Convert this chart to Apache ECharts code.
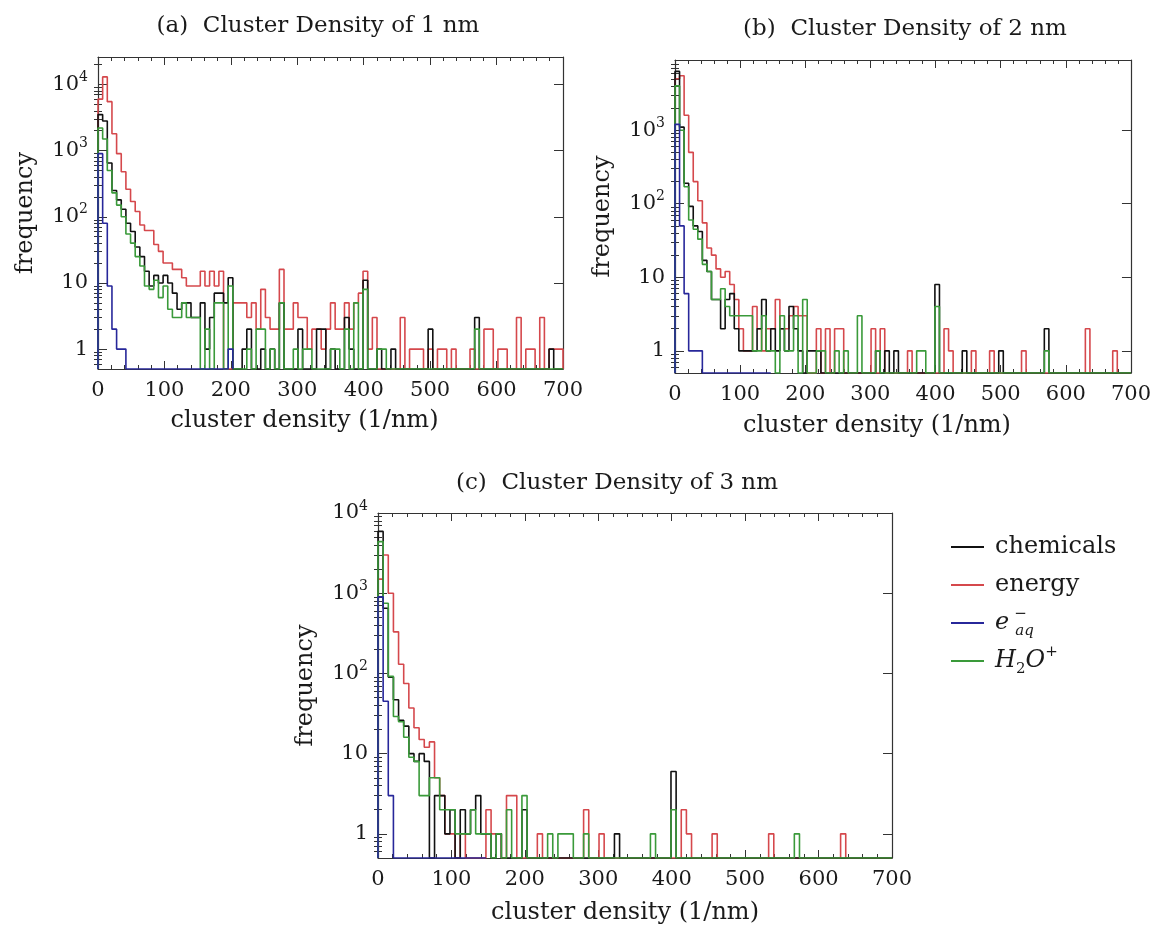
<!DOCTYPE html>
<html>
<head>
<meta charset="utf-8">
<script src="https://cdn.jsdelivr.net/npm/echarts@6/dist/echarts.min.js"></script>
<style>
html,body{margin:0;padding:0;background:#ffffff;}
#chart{width:1154px;height:932px;}
</style>
</head>
<body>
<div id="chart"></div>
<script>
// ---------------- data ----------------
const BIN_WIDTH = 7;            // histogram bin width (1/nm)
const X_TICKS = [0, 100, 200, 300, 400, 500, 600, 700];
const SERIES_NAMES = ['chemicals', 'energy', 'eaq', 'h2o'];
const PANEL_TITLES = ['(a)  Cluster Density of 1 nm', '(b)  Cluster Density of 2 nm', '(c)  Cluster Density of 3 nm'];
const Y_LABELS_A = [1, 10, 100, 1000, 10000];
const Y_LABELS_B = [1, 10, 100, 1000];
const Y_LABELS_C = [1, 10, 100, 1000, 10000];

// panel (a): counts per bin
const energyA = [6000,13000,5500,1800,900,480,260,170,120,75,
  62,62,38,30,20,20,16,16,12,9,
  9,9,15,9,15,9,15,0,0,5,
  5,5,3,5,2,8,3,2,2,16,
  2,2,5,3,3,1,2,2,1,2,
  5,2,2,5,2,5,7,15,1,3,
  0,0,0,0,0,3,0,1,1,1,
  0,1,0,1,1,0,1,0,0,0,
  1,0,0,2,2,0,1,1,0,0,
  3,0,1,1,0,3,0,1,1,1];
const chemA = [3500,2800,650,250,180,130,80,60,35,25,
  15,9,13,10,13,10,7,4,5,5,
  3,3,5,1,3,7,7,5,12,0,
  0,1,2,0,0,1,0,1,0,5,
  0,0,0,2,0,0,0,2,2,0,
  1,0,0,3,1,0,0,11,0,0,
  1,0,0,1,0,0,0,0,0,0,
  0,2,0,0,0,0,0,0,0,0,
  0,3,0,0,0,0,0,0,0,0,
  0,0,0,0,0,0,0,1,0,0];
const h2oA = [2200,1500,500,230,150,100,55,40,25,18,
  9,8,11,6,9,4,3,3,5,3,
  3,3,0,2,0,5,5,0,9,0,
  0,0,1,0,2,2,0,1,0,5,
  0,0,1,0,1,1,0,0,0,0,
  1,1,0,2,0,5,0,8,0,0,
  1,1,0,0,0,0,0,0,0,0,
  0,0,0,0,0,0,0,0,0,0,
  0,2,0,0,0,0,0,0,0,0,
  0,0,0,0,0,0,0,0,0,0];
const eaqA = [900,80,9,2,1,1,0,0,0,0,
  0,0,0,0,0,0,0,0,0,0,
  0,0,0,0,0,0,0,0,1];

// panel (b)
const energyB = [5000,5500,1600,500,200,110,55,25,20,13,
  10,12,8,5,2,1,1,4,2,1,
  2,2,5,2,2,3,4,3,3,0,
  0,2,0,2,0,2,2,0,0,0,
  0,0,0,2,0,2,0,0,0,0,
  0,1,0,0,0,0,0,0,0,2,
  1,0,0,0,0,1,0,0,0,1,
  0,0,0,0,0,0,1,0,0,0,
  0,0,0,0,0,0,0,0,0,0,
  2,0,0,0,0,0,1,0,0,0];
const chemB = [6300,1100,190,92,50,42,17,12,5,5,
  2,5,6,2,1,1,1,1,2,5,
  1,2,1,2,1,4,2,1,0,1,
  1,1,0,0,0,0,0,0,0,0,
  0,0,0,0,1,0,1,0,1,0,
  0,0,0,0,0,0,0,8,0,0,
  0,0,0,1,0,0,0,0,0,0,
  0,1,0,0,0,0,0,0,0,0,
  0,2,0,0,0,0,0,0,0,0,
  0,0,0,0,0,0,0,0,0,0];
const h2oB = [4000,1000,170,60,45,33,15,12,5,5,
  7,4,3,3,3,3,3,1,1,3,
  1,1,0,3,1,1,3,0,5,0,
  0,1,1,0,0,1,0,1,0,0,
  3,0,0,0,1,0,0,0,0,0,
  0,0,0,1,1,0,0,4,0,0,
  0,0,0,0,0,0,0,0,0,0,
  0,0,0,0,0,0,0,0,0,0,
  0,1,0,0,0,0,0,0,0,0,
  0,0,0,0,0,0,0,0,0,0];
const eaqB = [1200,50,6,1,1,1,0,0,0,0,
  0,0,0,0,0,0,0,0,0,0,0];

// panel (c)
const energyC = [1500,3000,1000,330,130,75,37,21,15,12,
  14,5,3,1,1,0,1,0,0,0,
  0,2,1,1,0,3,3,0,0,0,
  0,1,0,0,0,0,0,0,0,0,
  2,0,0,1,0,0,0,0,0,0,
  0,0,0,0,0,0,0,0,0,2,
  1,0,0,0,0,1,0,0,0,0,
  0,0,0,0,0,0,1,0,0,0,
  0,0,0,0,0,0,0,0,0,0,
  1,0,0,0,0,0,0,0,0,0];
const chemC = [5900,650,90,47,26,22,10,8,10,8,
  0,3,3,1,2,0,2,1,2,3,
  1,1,0,1,0,0,0,0,2,0,
  0,0,0,0,0,0,0,0,0,0,
  0,0,0,0,0,0,1,0,0,0,
  0,0,0,0,0,0,0,6,0,0,
  0,0,0,0,0,0,0,0,0,0,
  0,0,0,0,0,0,0,0,0,0,
  0,0,0,0,0,0,0,0,0,0,
  0,0,0,0,0,0,0,0,0,0];
const h2oC = [4400,750,92,29,25,16,9,8,3,3,
  5,5,2,2,2,1,1,1,2,1,
  1,1,0,1,0,2,0,0,3,0,
  0,0,0,1,0,1,1,1,0,0,
  1,0,0,0,0,0,0,0,0,0,
  0,0,0,1,0,0,0,2,0,0,
  0,0,0,0,0,0,0,0,0,0,
  0,0,0,0,0,0,0,0,0,0,
  0,1,0,0,0,0,0,0,0,0,
  0,0,0,0,0,0,0,0,0,0];
const eaqC = [900,45,3,0,0,0,0,0,0,0,
  0,0,0,0,0,0,0,0,0,0,0];

// ---------------- styling / layout ----------------
const FONT = 'DejaVu Serif';
const TEXT_COLOR = '#1a1a1a';
const FRAME_COLOR = '#333333';
const COLORS = { chemicals: '#111111', energy: '#d5484c', eaq: '#27279a', h2o: '#3a9a3a' };
const DRAW_ORDER = ['energy', 'chemicals', 'h2o', 'eaq'];

const panels = [
  { title: PANEL_TITLES[0], titleX: 313, titleY: 10, grid: { left: 98, top: 57, width: 465, height: 312 },
    yMin: 0.5, yMax: 26000, yLabels: Y_LABELS_A, xNameGap: 40, xNameShift: 26, yNameGap: 60,
    data: { chemicals: chemA, energy: energyA, eaq: eaqA, h2o: h2oA } },
  { title: PANEL_TITLES[1], titleX: 900, titleY: 13, grid: { left: 675, top: 60, width: 463, height: 313 },
    yMin: 0.5, yMax: 9000, yLabels: Y_LABELS_B, xNameGap: 41, xNameShift: 26, yNameGap: 60,
    data: { chemicals: chemB, energy: energyB, eaq: eaqB, h2o: h2oB } },
  { title: PANEL_TITLES[2], titleX: 612, titleY: 467, grid: { left: 378, top: 513, width: 514, height: 345 },
    yMin: 0.5, yMax: 10000, yLabels: Y_LABELS_C, xNameGap: 43, xNameShift: 10, yNameGap: 60,
    data: { chemicals: chemC, energy: energyC, eaq: eaqC, h2o: h2oC } }
];

function minorLogTicks(min, max) {
  const out = [];
  for (let e = -1; e <= 5; e++) {
    for (let k = 2; k <= 9; k++) {
      const v = k * Math.pow(10, e);
      if (v > min && v < max) out.push(Number(v.toPrecision(6)));
    }
  }
  return out;
}

function stepPoints(counts, floor) {
  const pts = [[0, floor]];
  counts.forEach(function (c, i) { pts.push([i * BIN_WIDTH, c > 0 ? c : floor]); });
  pts.push([counts.length * BIN_WIDTH, floor]);
  return pts;
}

function yLabelFormatter(v) {
  const e = Math.round(Math.log10(v));
  if (e === 0) return '1';
  if (e === 1) return '10';
  return '10{sup|' + e + '}';
}

const option = {
  animation: false,
  backgroundColor: '#ffffff',
  textStyle: { fontFamily: FONT },
  title: [],
  grid: [],
  xAxis: [],
  yAxis: [],
  series: [],
  legend: {
    orient: 'vertical',
    left: 946,
    top: 526,
    icon: 'rect',
    itemWidth: 33,
    itemHeight: 2,
    itemGap: 6,
    selectedMode: false,
    data: SERIES_NAMES,
    formatter: function (name) {
      if (name === 'chemicals') return 'chemicals';
      if (name === 'energy') return 'energy';
      if (name === 'eaq') return '{it|e}{ms|\u2212}{sub|aq}';
      return '{it|H}{sub2|2}{it|O}{sup|+}';
    },
    textStyle: {
      fontFamily: FONT, fontSize: 24, color: TEXT_COLOR, lineHeight: 32, padding: [0, 0, 0, 6],
      rich: {
        it: { fontFamily: FONT, fontStyle: 'italic', fontSize: 24, color: TEXT_COLOR, lineHeight: 32 },
        sub: { fontFamily: FONT, fontStyle: 'italic', fontSize: 15, color: TEXT_COLOR, lineHeight: 15, verticalAlign: 'bottom' },
        sub2: { fontFamily: FONT, fontSize: 15, color: TEXT_COLOR, lineHeight: 15, verticalAlign: 'bottom' },
        sup: { fontFamily: FONT, fontSize: 15, color: TEXT_COLOR, lineHeight: 15, verticalAlign: 'top' },
        ms: { fontFamily: FONT, fontSize: 15, color: TEXT_COLOR, lineHeight: 15, verticalAlign: 'top', width: 1, padding: [0, 0, 0, 5] }
      }
    }
  }
};

panels.forEach(function (p, pi) {
  option.title.push({
    text: p.title, left: p.titleX, top: p.titleY, textAlign: 'center',
    textStyle: { fontFamily: FONT, fontSize: 23, fontWeight: 'normal', color: TEXT_COLOR }
  });
  option.grid.push(Object.assign({ containLabel: false }, p.grid));

  const lineStyle = { color: FRAME_COLOR, width: 1.2 };
  const xBase = {
    gridIndex: pi, type: 'value', min: X_TICKS[0], max: X_TICKS[X_TICKS.length - 1], interval: 100,
    axisLine: { show: true, onZero: false, lineStyle: lineStyle },
    axisTick: { show: true, inside: true, length: 8, lineStyle: { color: FRAME_COLOR, width: 1 } },
    minorTick: { show: true, splitNumber: 5, length: 4, lineStyle: { color: FRAME_COLOR, width: 1 } },
    splitLine: { show: false }
  };
  option.xAxis.push(Object.assign({}, xBase, {
    position: 'bottom',
    axisLabel: { show: true, fontFamily: FONT, fontSize: 21, color: TEXT_COLOR, margin: 11 },
    name: 'cluster density (1/nm)', nameLocation: 'middle', nameGap: p.xNameGap,
    nameTextStyle: { fontFamily: FONT, fontSize: 24, color: TEXT_COLOR, padding: [0, p.xNameShift * 2, 0, 0] }
  }));
  option.xAxis.push(Object.assign({}, xBase, { position: 'top', axisLabel: { show: false } }));

  const minors = minorLogTicks(p.yMin, p.yMax);
  const yBase = {
    gridIndex: pi, type: 'log', logBase: 10, min: p.yMin, max: p.yMax,
    splitLine: { show: false }, minorTick: { show: false }
  };
  // left major (labels)
  option.yAxis.push(Object.assign({}, yBase, {
    position: 'left',
    axisLine: { show: true, onZero: false, lineStyle: lineStyle },
    axisTick: { show: true, inside: true, length: 9, customValues: p.yLabels, lineStyle: { color: FRAME_COLOR, width: 1 } },
    axisLabel: {
      show: true, customValues: p.yLabels, formatter: yLabelFormatter,
      fontFamily: FONT, fontSize: 21, color: TEXT_COLOR, margin: 10, lineHeight: 28,
      rich: { sup: { fontFamily: FONT, fontSize: 14, color: TEXT_COLOR, lineHeight: 14, verticalAlign: 'top' } }
    },
    name: 'frequency', nameLocation: 'middle', nameGap: p.yNameGap,
    nameTextStyle: { fontFamily: FONT, fontSize: 24, color: TEXT_COLOR }
  }));
  // left minor
  option.yAxis.push(Object.assign({}, yBase, {
    position: 'left', axisLine: { show: false },
    axisTick: { show: true, inside: true, length: 4, customValues: minors, lineStyle: { color: FRAME_COLOR, width: 1 } },
    axisLabel: { show: false }
  }));
  // right major
  option.yAxis.push(Object.assign({}, yBase, {
    position: 'right',
    axisLine: { show: true, onZero: false, lineStyle: lineStyle },
    axisTick: { show: true, inside: true, length: 9, customValues: p.yLabels, lineStyle: { color: FRAME_COLOR, width: 1 } },
    axisLabel: { show: false }
  }));
  // right minor
  option.yAxis.push(Object.assign({}, yBase, {
    position: 'right', axisLine: { show: false },
    axisTick: { show: true, inside: true, length: 4, customValues: minors, lineStyle: { color: FRAME_COLOR, width: 1 } },
    axisLabel: { show: false }
  }));

  DRAW_ORDER.forEach(function (key, k) {
    option.series.push({
      name: key, type: 'line', step: 'end',
      xAxisIndex: pi * 2, yAxisIndex: pi * 4,
      data: stepPoints(p.data[key], p.yMin),
      symbol: 'none', showSymbol: false, silent: true, clip: true,
      color: COLORS[key],
      lineStyle: { color: COLORS[key], width: 1.6 },
      z: 2 + k
    });
  });
});

const chart = echarts.init(document.getElementById('chart'), null, { renderer: 'canvas' });
chart.setOption(option);
</script>
</body>
</html>
